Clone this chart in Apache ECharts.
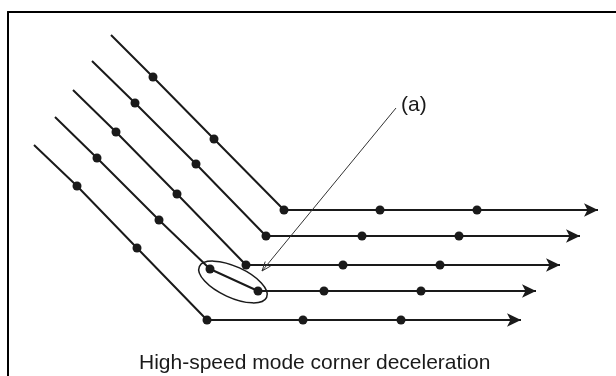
<!DOCTYPE html>
<html>
<head>
<meta charset="utf-8">
<script src="https://cdn.jsdelivr.net/npm/echarts@6/dist/echarts.min.js"></script>
<style>
  html, body { margin: 0; padding: 0; background: #fff; }
  #chart { width: 616px; height: 376px; }
</style>
</head>
<body>
<div id="chart"></div>
<script>
// Tool paths: first point = start of the line, last point = arrow tip,
// every point in between is a block end point (dot)
const path1 = [[111, 35], [153, 77], [214, 139], [284, 210], [380, 210], [477, 210], [598, 210]];
const path2 = [[92, 61], [135, 103], [196, 164], [266, 236], [362, 236], [459, 236], [580, 236]];
const path3 = [[73, 90], [116, 132], [177, 194], [246, 265], [343, 265], [440, 265], [560, 265]];
const path4 = [[55, 117], [97, 158], [159, 220], [210, 269], [258, 291], [324, 291], [421, 291], [536, 291]];
const path5 = [[34, 145], [77, 186], [137, 248], [207, 320], [303, 320], [401, 320], [521, 320]];

// ellipse round the decelerated corner: cx, cy, rx, ry, tilt (deg)
const ellipse = [233, 282, 37, 15.5, 24.6];
// leader line to the ellipse: from (x1, y1) to arrow tip (x2, y2)
const leader = [396, 108, 262, 271];
const leaderLabel = "(a)";
const caption = "High-speed mode corner deceleration";

const ink = "#1a1a1a";
const font = '"Liberation Sans", Arial, sans-serif';

const chart = echarts.init(document.getElementById("chart"));

// turn a path into line data: no dot on the start, arrow on the end
function pathData(pts) {
  return pts.map((p, i) => {
    if (i === 0) return { value: p, symbol: "none" };
    if (i === pts.length - 1) {
      return {
        value: p,
        symbol: "arrow",
        symbolSize: [10, 14],
        symbolRotate: -90,
      };
    }
    return { value: p };
  });
}

const pathSeries = [path1, path2, path3, path4, path5].map((pts) => ({
  type: "line",
  data: pathData(pts),
  symbol: "circle",
  symbolSize: 9,
  showSymbol: true,
  lineStyle: { color: ink, width: 2 },
  itemStyle: { color: ink, borderWidth: 0 },
  z: 3,
}));

var option = {
  animation: false,
  backgroundColor: "#fff",
  title: {
    text: caption,
    left: 139,
    top: 353,
    padding: 0,
    textStyle: { fontSize: 21, fontWeight: "normal", color: ink, fontFamily: font },
  },
  grid: { left: 8, top: 12, right: 0, bottom: 0, containLabel: false },
  xAxis: {
    type: "value",
    min: 8,
    max: 616,
    position: "top",
    axisLine: { show: true, onZero: false, lineStyle: { color: "#000", width: 2 } },
    axisTick: { show: false },
    axisLabel: { show: false },
    splitLine: { show: false },
  },
  yAxis: {
    type: "value",
    min: 12,
    max: 376,
    inverse: true,
    axisLine: { show: true, onZero: false, lineStyle: { color: "#000", width: 2 } },
    axisTick: { show: false },
    axisLabel: { show: false },
    splitLine: { show: false },
  },
  series: pathSeries.concat([
    {
      type: "custom",
      data: [ellipse],
      silent: true,
      z: 2,
      renderItem: function (params, api) {
        const c = api.coord([api.value(0), api.value(1)]);
        const s = api.size([api.value(2), api.value(3)]);
        return {
          type: "ellipse",
          x: c[0],
          y: c[1],
          rotation: (-api.value(4) * Math.PI) / 180,
          shape: { cx: 0, cy: 0, rx: s[0], ry: s[1] },
          style: { fill: "none", stroke: ink, lineWidth: 1.5 },
        };
      },
    },
    {
      type: "custom",
      data: [leader],
      silent: true,
      z: 4,
      renderItem: function (params, api) {
        const p1 = api.coord([api.value(0), api.value(1)]);
        const p2 = api.coord([api.value(2), api.value(3)]);
        const ang = Math.atan2(p2[1] - p1[1], p2[0] - p1[0]);
        const len = 10, spread = 0.36;
        const a1 = [p2[0] - len * Math.cos(ang - spread), p2[1] - len * Math.sin(ang - spread)];
        const a2 = [p2[0] - len * Math.cos(ang + spread), p2[1] - len * Math.sin(ang + spread)];
        return {
          type: "group",
          children: [
            {
              type: "line",
              shape: { x1: p1[0], y1: p1[1], x2: p2[0], y2: p2[1] },
              style: { stroke: "#333", lineWidth: 1 },
            },
            {
              type: "polyline",
              shape: { points: [a1, p2, a2] },
              style: { stroke: "#333", lineWidth: 1, fill: "none" },
            },
            {
              type: "text",
              x: p1[0] + 5,
              y: p1[1] - 3,
              style: {
                text: leaderLabel,
                font: "21px " + font,
                fill: ink,
                align: "left",
                verticalAlign: "middle",
              },
            },
          ],
        };
      },
    },
  ]),
};

chart.setOption(option);
</script>
</body>
</html>
